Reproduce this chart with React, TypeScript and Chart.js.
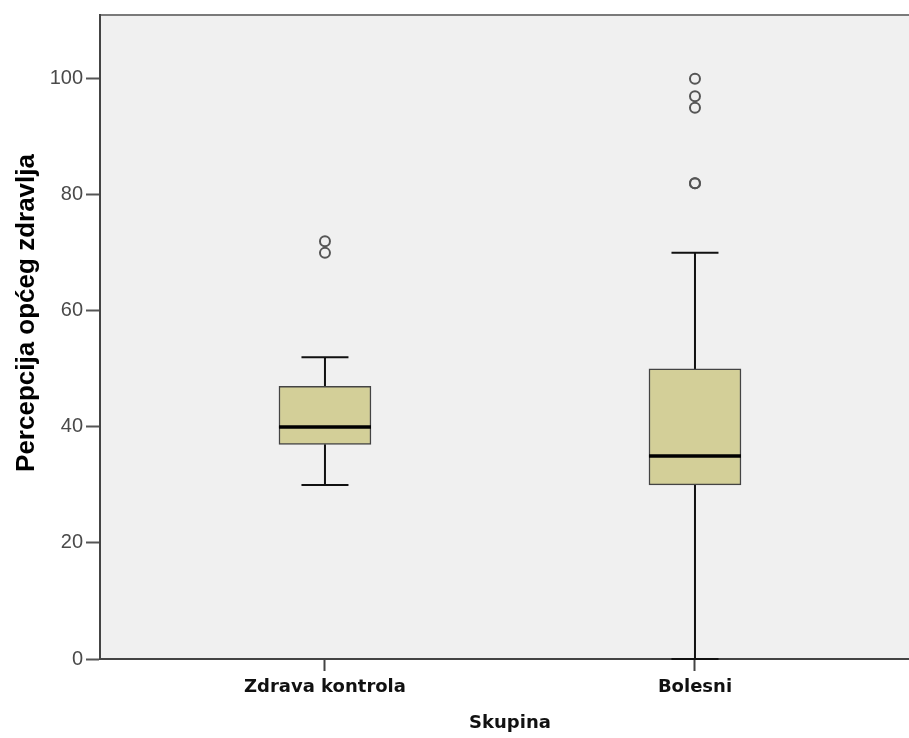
import React, { useEffect, useRef } from "react";
import { Chart, registerables } from "chart.js";

Chart.register(...registerables);

const categories = ["Zdrava kontrola", "Bolesni"];
const whiskerLow = [30, 0];
const q1 = [37, 30];
const median = [40, 35];
const q3 = [47, 50];
const whiskerHigh = [52, 70];
const outliersZdrava = [70, 72];
const outliersBolesni = [100, 97, 95, 82, 82];
const yTicks = [0, 20, 40, 60, 80, 100];
const yTitle = "Percepcija općeg zdravlja";
const xTitle = "Skupina";

const BOX_WIDTH = 92;
const CAP_WIDTH = 47;

const boxPlugin = {
  id: "boxExtras",
  beforeDraw(chart: any) {
    const { ctx, chartArea } = chart;
    ctx.save();
    ctx.fillStyle = "#F0F0F0";
    ctx.fillRect(chartArea.left, chartArea.top, chart.width - chartArea.left, chartArea.bottom - chartArea.top);
    ctx.strokeStyle = "#7a7a7a";
    ctx.lineWidth = 2;
    ctx.beginPath();
    ctx.moveTo(chartArea.left, chartArea.top);
    ctx.lineTo(chart.width, chartArea.top);
    ctx.stroke();
    ctx.strokeStyle = "#444";
    ctx.beginPath();
    ctx.moveTo(chartArea.right - 2, chartArea.bottom);
    ctx.lineTo(chart.width, chartArea.bottom);
    ctx.stroke();
    ctx.restore();
  },
  beforeDatasetsDraw(chart: any) {
    const { ctx } = chart;
    const xs = chart.scales.x;
    const ys = chart.scales.y;
    ctx.save();
    ctx.strokeStyle = "#111";
    ctx.lineWidth = 2;
    categories.forEach((_, i) => {
      const cx = xs.getPixelForValue(i);
      const yMin = ys.getPixelForValue(whiskerLow[i]);
      const yQ1 = ys.getPixelForValue(q1[i]);
      const yQ3 = ys.getPixelForValue(q3[i]);
      const yMax = ys.getPixelForValue(whiskerHigh[i]);
      ctx.beginPath();
      ctx.moveTo(cx, yQ3);
      ctx.lineTo(cx, yMax);
      ctx.moveTo(cx - CAP_WIDTH / 2, yMax);
      ctx.lineTo(cx + CAP_WIDTH / 2, yMax);
      ctx.moveTo(cx, yQ1);
      ctx.lineTo(cx, yMin);
      ctx.moveTo(cx - CAP_WIDTH / 2, yMin);
      ctx.lineTo(cx + CAP_WIDTH / 2, yMin);
      ctx.stroke();
    });
    ctx.restore();
  },
  afterDatasetsDraw(chart: any) {
    const { ctx } = chart;
    const xs = chart.scales.x;
    const ys = chart.scales.y;
    ctx.save();
    ctx.strokeStyle = "#000";
    ctx.lineWidth = 3.5;
    categories.forEach((_, i) => {
      const cx = xs.getPixelForValue(i);
      const ym = ys.getPixelForValue(median[i]);
      ctx.beginPath();
      ctx.moveTo(cx - BOX_WIDTH / 2, ym);
      ctx.lineTo(cx + BOX_WIDTH / 2, ym);
      ctx.stroke();
    });
    ctx.restore();
  },
  afterDraw(chart: any) {
    const { ctx } = chart;
    ctx.save();
    ctx.fillStyle = "#111";
    ctx.font = "bold 18px 'DejaVu Sans'";
    ctx.textAlign = "center";
    ctx.textBaseline = "middle";
    ctx.fillText(xTitle, 510, 723);
    ctx.translate(27, 313);
    ctx.rotate(-Math.PI / 2);
    ctx.fillStyle = "#000";
    ctx.font = "bold 26px 'Liberation Sans'";
    ctx.fillText(yTitle, 0, 0);
    ctx.restore();
  },
};

export default function App() {
  const ref = useRef<HTMLCanvasElement | null>(null);
  useEffect(() => {
    if (!ref.current) return;
    const outlierData = [
      ...outliersZdrava.map((y) => ({ x: 0, y })),
      ...outliersBolesni.map((y) => ({ x: 1, y })),
    ];
    const chart = new Chart(ref.current, {
      type: "bar",
      data: {
        datasets: [
          {
            type: "bar",
            data: categories.map((_, i) => ({ x: i, y: [q1[i], q3[i]] })) as any,
            backgroundColor: "#D3CF98",
            borderColor: "#444",
            borderWidth: 1.5,
            borderSkipped: false,
            barThickness: BOX_WIDTH,
          } as any,
          {
            type: "scatter",
            data: outlierData,
            pointRadius: 5,
            pointStyle: "circle",
            borderWidth: 2,
            borderColor: "#555",
            backgroundColor: "rgba(0,0,0,0)",
          } as any,
        ],
      },
      options: {
        animation: false,
        responsive: false,
        devicePixelRatio: 1,
        layout: { padding: { top: 14, left: 0, right: 0, bottom: 0 } },
        plugins: { legend: { display: false }, tooltip: { enabled: false } },
        scales: {
          x: {
            type: "linear",
            offset: false,
            min: -0.608,
            max: 1.5595,
            afterBuildTicks: (scale: any) => {
              scale.ticks = categories.map((_, i) => ({ value: i }));
            },
            afterFit: (scale: any) => {
              scale.height = 79;
            },
            ticks: {
              callback: (v: any) => categories[v as number] ?? "",
              font: { family: "DejaVu Sans", size: 18, weight: "bold" },
              color: "#111",
              padding: 6,
              maxRotation: 0,
            },
            grid: { offset: false, drawOnChartArea: false, drawTicks: true, tickLength: 12, tickColor: "#444", tickWidth: 2 },
            border: { display: true, color: "#444", width: 2 },
            title: { display: false },
          },
          y: {
            type: "linear",
            min: 0,
            max: 111,
            afterBuildTicks: (scale: any) => {
              scale.ticks = yTicks.map((v) => ({ value: v }));
            },
            afterFit: (scale: any) => {
              scale.width = 100;
            },
            ticks: {
              font: { family: "Liberation Sans", size: 20 },
              color: "#4a4a4a",
              padding: 3,
            },
            grid: { drawOnChartArea: false, drawTicks: true, tickLength: 14, tickColor: "#555", tickWidth: 2 },
            border: { display: true, color: "#444", width: 2 },
            title: { display: false },
          },
        },
      },
      plugins: [boxPlugin],
    } as any);
    return () => chart.destroy();
  }, []);
  return (
    <div style={{ position: "fixed", left: 0, top: 0, width: 909, height: 738, background: "#fff" }}>
      <canvas ref={ref} width={909} height={738} style={{ width: 909, height: 738 }} />
    </div>
  );
}
